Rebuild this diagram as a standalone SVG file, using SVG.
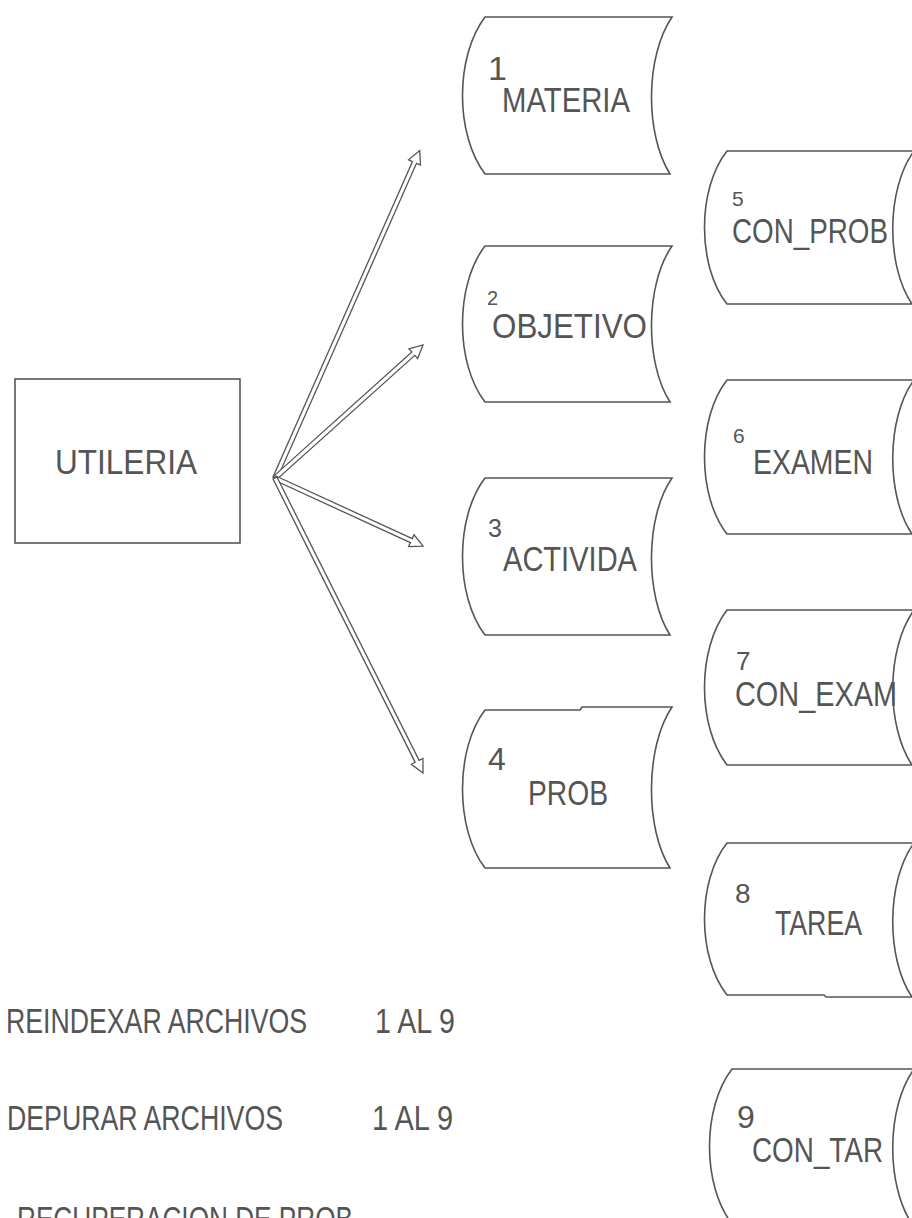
<svg xmlns="http://www.w3.org/2000/svg" width="912" height="1218" viewBox="0 0 912 1218">
<style>
.shape{fill:#fff;stroke:#555;stroke-width:1.6}
.t{font-family:"Liberation Sans",Arial,sans-serif;fill:#555;font-size:35px}
.arr{fill:#fff;stroke:#555;stroke-width:1.3;stroke-linejoin:miter}
</style>
<rect width="912" height="1218" fill="#fff"/>
<g id="connectors">
<polygon class="arr" transform="translate(275,478) rotate(-66.15)" points="0,-2.2 345,-2.2 345,-6.5 358,0 345,6.5 345,2.2 0,2.2"/>
<polygon class="arr" transform="translate(275,478) rotate(-41.94)" points="0,-2.2 186,-2.2 186,-6.5 199,0 186,6.5 186,2.2 0,2.2"/>
<polygon class="arr" transform="translate(275,478) rotate(24.68)" points="0,-2.2 150,-2.2 150,-6.5 163,0 150,6.5 150,2.2 0,2.2"/>
<polygon class="arr" transform="translate(275,478) rotate(63.36)" points="0,-2.2 317,-2.2 317,-6.5 330,0 317,6.5 317,2.2 0,2.2"/>
</g>
<g id="utileria">
<rect class="shape" x="15" y="379" width="225" height="164"/>
<text class="t" x="55" y="474" textLength="142" lengthAdjust="spacingAndGlyphs">UTILERIA</text>
</g>
<g id="n1">
<path class="shape" d="M485,17 H672 C645,57 645,134 670,174 H485 C455,134 455,57 485,17 Z"/>
<text class="t" x="488" y="80" style="font-size:34px">1</text>
<text class="t" x="502" y="112" textLength="128" lengthAdjust="spacingAndGlyphs">MATERIA</text>
</g>
<g id="n2">
<path class="shape" d="M485,246 H672 C645,285 645,363 670,402 H485 C455,363 455,285 485,246 Z"/>
<text class="t" x="487" y="305" style="font-size:20px">2</text>
<text class="t" x="492" y="338" textLength="155" lengthAdjust="spacingAndGlyphs">OBJETIVO</text>
</g>
<g id="n3">
<path class="shape" d="M485,478 H672 C645,517 645,596 670,635 H485 C455,596 455,517 485,478 Z"/>
<text class="t" x="488" y="537" style="font-size:25px">3</text>
<text class="t" x="503" y="571" textLength="134" lengthAdjust="spacingAndGlyphs">ACTIVIDA</text>
</g>
<g id="n4">
<path class="shape" d="M485,710 H580 L582,707 H672 C645,747 645,829 670,868 H485 C455,829 455,749 485,710 Z"/>
<text class="t" x="488" y="770" style="font-size:32px">4</text>
<text class="t" x="528" y="805" textLength="80" lengthAdjust="spacingAndGlyphs">PROB</text>
</g>
<g id="n5">
<path class="shape" d="M727,151 H914 C886,189 886,266 912,304 H727 C697,266 697,189 727,151 Z"/>
<text class="t" x="732" y="206" style="font-size:21px">5</text>
<text class="t" x="732" y="243" textLength="156" lengthAdjust="spacingAndGlyphs">CON_PROB</text>
</g>
<g id="n6">
<path class="shape" d="M727,380 H914 C886,418 886,496 912,534 H727 C697,496 697,418 727,380 Z"/>
<text class="t" x="733" y="443" style="font-size:21px">6</text>
<text class="t" x="753" y="474" textLength="120" lengthAdjust="spacingAndGlyphs">EXAMEN</text>
</g>
<g id="n7">
<path class="shape" d="M727,610 H914 C886,649 886,726 912,765 H727 C697,726 697,649 727,610 Z"/>
<text class="t" x="736" y="670" style="font-size:26px">7</text>
<text class="t" x="735" y="706" textLength="162" lengthAdjust="spacingAndGlyphs">CON_EXAM</text>
</g>
<g id="n8">
<path class="shape" d="M727,843 H914 C886,881 886,959 912,997 H826 L824,995 H727 C697,957 697,881 727,843 Z"/>
<text class="t" x="735" y="903" style="font-size:28px">8</text>
<text class="t" x="775" y="935" textLength="87" lengthAdjust="spacingAndGlyphs">TAREA</text>
</g>
<g id="n9">
<path class="shape" d="M732,1069 H914 C886,1108 886,1185 912,1224 H732 C702,1185 702,1108 732,1069 Z"/>
<text class="t" x="737" y="1128" style="font-size:32px">9</text>
<text class="t" x="752" y="1162" textLength="131" lengthAdjust="spacingAndGlyphs">CON_TAR</text>
</g>
<g id="notes">
<text class="t" x="6" y="1033" textLength="301" lengthAdjust="spacingAndGlyphs">REINDEXAR ARCHIVOS</text>
<text class="t" x="375" y="1033" textLength="80" lengthAdjust="spacingAndGlyphs">1 AL 9</text>
<text class="t" x="7" y="1130" textLength="276" lengthAdjust="spacingAndGlyphs">DEPURAR ARCHIVOS</text>
<text class="t" x="372" y="1130" textLength="81" lengthAdjust="spacingAndGlyphs">1 AL 9</text>
<text class="t" x="17" y="1231" textLength="336" lengthAdjust="spacingAndGlyphs">RECUPERACION DE PROB</text>
</g>
</svg>
